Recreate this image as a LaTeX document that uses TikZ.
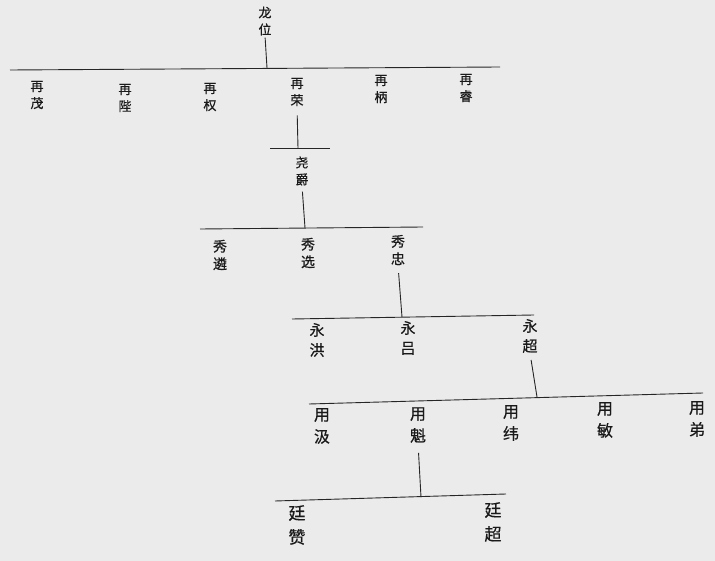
\documentclass[tikz,border=0pt]{standalone}
\usepackage{fontspec}
\setmainfont{Noto Sans CJK SC}[FakeBold=0.6]

\begin{document}
\begin{tikzpicture}[x=1pt,y=-1pt,
  member/.style={align=center,inner sep=0pt,text=black!90},
  bar/.style={draw=black!85,line width=0.9pt},
  descent/.style={draw=black!85,line width=0.9pt}]
  \fill[black!8] (0,0) rectangle (715,561);
  \useasboundingbox (0,0) rectangle (715,561);

  % generation 0
  \node[member,font=\fontsize{13}{17}\selectfont] (longwei) at (265,21) {龙\\位};
  \coordinate (g1drop) at (267,68);
  \coordinate (g1left) at (10,70);
  \coordinate (g1right) at (500,67);
  \draw[descent,shorten <=2pt] (longwei.south) -- (g1drop);
  \draw[bar] (g1left) -- (g1right);

  % generation 1
  \begin{scope}[every node/.style={member,font=\fontsize{13}{17}\selectfont}]
    \node (zaimao)  at (37,95)  {再\\茂};
    \node (zaibi)   at (125,98) {再\\陛};
    \node (zaiquan) at (210,97) {再\\权};
    \node (zairong) at (297,92) {再\\荣};
    \node (zaibing) at (381,89) {再\\柄};
    \node (zairui)  at (466,88) {再\\睿};
  \end{scope}
  \coordinate (g2drop) at (298,148);
  \coordinate (g2left) at (270,148);
  \coordinate (g2right) at (330,148);
  \draw[descent,shorten <=9pt] (zairong.south) -- (g2drop);
  \draw[bar] (g2left) -- (g2right);

  % generation 2
  \node[member,font=\fontsize{13}{17}\selectfont] (yaojue) at (302,171) {尧\\爵};
  \coordinate (g3drop) at (305,228);
  \coordinate (g3left) at (200,229);
  \coordinate (g3right) at (423,227);
  \draw[descent,shorten <=6pt] (yaojue.south) -- (g3drop);
  \draw[bar] (g3left) -- (g3right);

  % generation 3
  \begin{scope}[every node/.style={member,font=\fontsize{14}{17.5}\selectfont}]
    \node (xiulin)   at (220,255) {秀\\遴};
    \node (xiuxuan)  at (308,253) {秀\\选};
    \node (xiuzhong) at (398,250) {秀\\忠};
  \end{scope}
  \coordinate (g4drop) at (402,317);
  \coordinate (g4left) at (292,319);
  \coordinate (g4right) at (534,315);
  \draw[descent,shorten <=8pt] (xiuzhong.south) -- (g4drop);
  \draw[bar] (g4left) -- (g4right);

  % generation 4
  \begin{scope}[every node/.style={member,font=\fontsize{15}{20}\selectfont}]
    \node (yonghong) at (317,340) {永\\洪};
    \node (yonglv)   at (408,338) {永\\吕};
    \node (yongchao) at (530,336) {永\\超};
  \end{scope}
  \coordinate (g5drop) at (537,397);
  \coordinate (g5left) at (309,404);
  \coordinate (g5right) at (703,393);
  \draw[descent,shorten <=7pt] (yongchao.south) -- (g5drop);
  \draw[bar] (g5left) -- (g5right);

  % generation 5
  \begin{scope}[every node/.style={member,font=\fontsize{16}{22}\selectfont}]
    \node (yongji)  at (322,426) {用\\汲};
    \node (yongkui) at (418,425) {用\\魁};
    \node (yongwei) at (511,423) {用\\纬};
    \node (yongmin) at (605,420) {用\\敏};
    \node (yongdi)  at (697,419) {用\\弟};
  \end{scope}
  \coordinate (g6drop) at (421,497);
  \coordinate (g6left) at (275,501);
  \coordinate (g6right) at (506,494);
  \draw[descent,shorten <=10pt] (yongkui.south) -- (g6drop);
  \draw[bar] (g6left) -- (g6right);

  % generation 6
  \begin{scope}[every node/.style={member,font=\fontsize{17}{24}\selectfont}]
    \node (tingzan)  at (297,525) {廷\\赞};
    \node (tingchao) at (493,522) {廷\\超};
  \end{scope}
\end{tikzpicture}
\end{document}
